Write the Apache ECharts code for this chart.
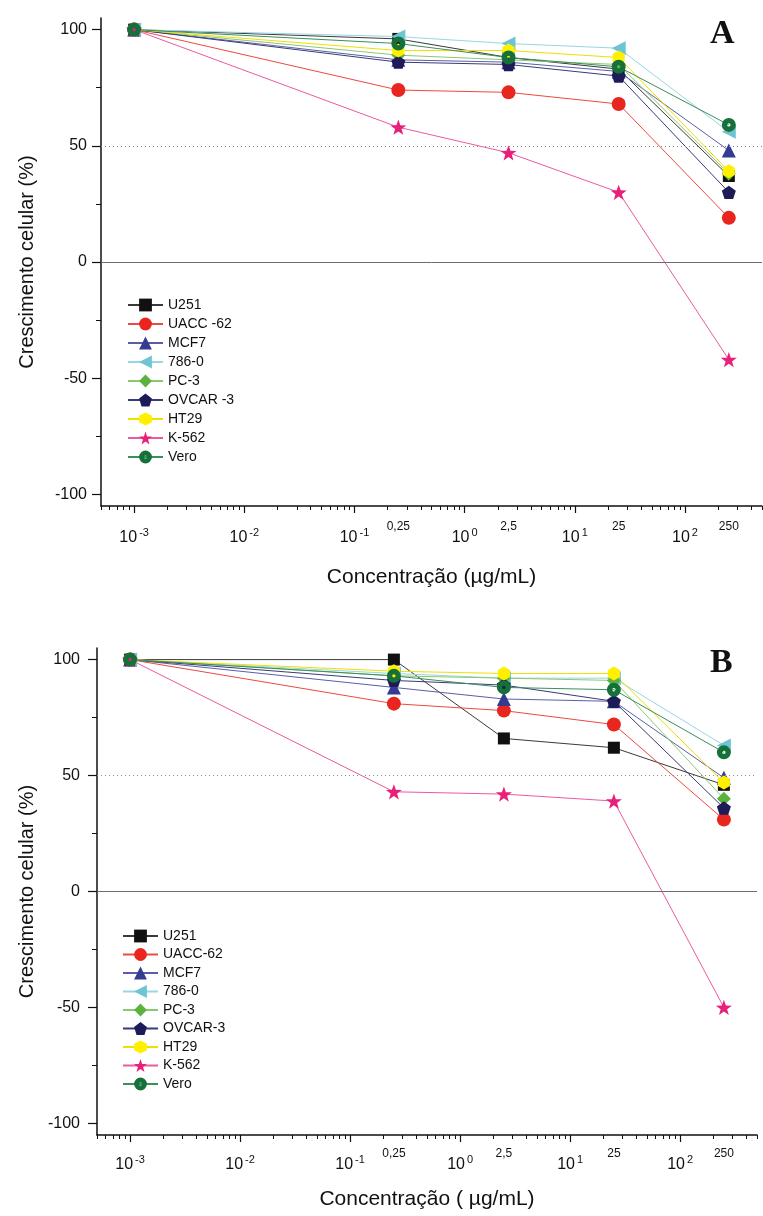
<!DOCTYPE html>
<html>
<head>
<meta charset="utf-8">
<script src="https://cdn.jsdelivr.net/npm/echarts@6/dist/echarts.min.js"></script>
<style>
  html, body { margin: 0; padding: 0; background: #fff; }
  #chart { width: 763px; height: 1216px; }
</style>
</head>
<body>
<div id="chart"></div>
<script>
// concentrações testadas (µg/mL)
const conc = [0.001, 0.25, 2.5, 25, 250]
const concTickVals = [0.25, 2.5, 25, 250]
const concLabels = ['0,25', '2,5', '25', '250']
const decadeTicks = [0.001, 0.01, 0.1, 1, 10, 100]
const yTicks = [-100, -50, 0, 50, 100]
const yMinorTicks = [-75, -25, 25, 75]

const namesA = ['U251', 'UACC -62', 'MCF7', '786-0', 'PC-3', 'OVCAR -3', 'HT29', 'K-562', 'Vero']
const namesB = ['U251', 'UACC-62', 'MCF7', '786-0', 'PC-3', 'OVCAR-3', 'HT29', 'K-562', 'Vero']

// painel A
const u251A   = [100, 96, 88, 83, 37]
const uacc62A = [100, 74, 73, 68, 19]
const mcf7A   = [100, 87, 86, 82, 48]
const r7860A  = [100, 97, 94, 92, 56]
const pc3A    = [100, 89, 87, 85, 38]
const ovcar3A = [100, 86, 85, 80, 30]
const ht29A   = [100, 91, 91, 88, 39]
const k562A   = [100, 58, 47, 30, -42]
const veroA   = [100, 94, 88, 84, 59]

// painel B
const u251B   = [100, 100, 66, 62, 46]
const uacc62B = [100, 81, 78, 72, 31]
const mcf7B   = [100, 88, 83, 82, 49]
const r7860B  = [100, 94, 92, 92, 63]
const pc3B    = [100, 93, 92, 91, 40]
const ovcar3B = [100, 91, 89, 82, 36]
const ht29B   = [100, 95, 94, 94, 47]
const k562B   = [100, 43, 42, 39, -50]
const veroB   = [100, 93, 88, 87, 60]

const valuesA = [u251A, uacc62A, mcf7A, r7860A, pc3A, ovcar3A, ht29A, k562A, veroA]
const valuesB = [u251B, uacc62B, mcf7B, r7860B, pc3B, ovcar3B, ht29B, k562B, veroB]

// marcadores
const LEFT_TRI = 'path://M0,50 L100,0 L100,100 Z'
const PENTAGON = 'path://M50,0 L97.55,34.55 L79.39,90.45 L20.61,90.45 L2.45,34.55 Z'
const HEXAGON = 'path://M50,0 L93.3,25 L93.3,75 L50,100 L6.7,75 L6.7,25 Z'
const STAR = 'path://M50,0 L61.76,33.82 L97.55,34.55 L69.02,56.18 L79.39,90.45 L50,70 L20.61,90.45 L30.98,56.18 L2.45,34.55 L38.24,33.82 Z'
const VERO = 'path://M100,50 A50,50 0 1,1 0,50 A50,50 0 1,1 100,50 Z M62,50 A12,12 0 1,0 38,50 A12,12 0 1,0 62,50 Z'

const styles = [
  { symbol: 'rect', size: 12, fill: '#111111', line: '#3a3a3a' },
  { symbol: 'circle', size: 14, fill: '#e8261f', line: '#ec4a43' },
  { symbol: 'triangle', size: 14, fill: '#363b92', line: '#5a5ea8' },
  { symbol: LEFT_TRI, size: 14, fill: '#6fc4d4', line: '#98d6e4' },
  { symbol: 'diamond', size: 14, fill: '#5bb33e', line: '#8cc870' },
  { symbol: PENTAGON, size: 14, fill: '#1d1b58', line: '#3b3a78' },
  { symbol: HEXAGON, size: 14, fill: '#fff000', line: '#efe000' },
  { symbol: STAR, size: 16, fill: '#e8207a', line: '#ea5aa0' },
  { symbol: VERO, size: 14, fill: '#16703a', line: '#3a8f5a' }
]

const FONT = "'Liberation Sans', Arial, sans-serif"
const minorX = []
for (let e = -4; e <= 2; e++) {
  for (let m = 2; m <= 9; m++) minorX.push(+(m * Math.pow(10, e)).toPrecision(3))
}

function buildSeries(names, values, axis) {
  return names.map((name, i) => {
    const st = styles[i]
    const s = {
      name: name,
      type: 'line',
      xAxisIndex: axis,
      yAxisIndex: axis,
      data: conc.map((c, j) => [c, values[i][j]]),
      symbol: st.symbol,
      symbolSize: st.size,
      symbolKeepAspect: true,
      itemStyle: { color: st.fill },
      lineStyle: { color: st.line, width: 1 },
      emphasis: { disabled: true }
    }
    if (i === 0) {
      s.markLine = {
        silent: true,
        symbol: 'none',
        label: { show: false },
        data: [
          { yAxis: 0, lineStyle: { color: '#6d6d6d', type: 'solid', width: 1 } },
          { yAxis: 50, lineStyle: { color: '#8a8a8a', type: [1, 3], width: 1 } }
        ]
      }
    }
    return s
  })
}

function xAxes(grid, title, nameGap, labelMargin) {
  return [
    {
      gridIndex: grid,
      type: 'log',
      min: 0.0005,
      max: 500,
      position: 'bottom',
      axisLine: { onZero: false, lineStyle: { color: '#111', width: 1.5 } },
      axisTick: { customValues: decadeTicks, length: 7, lineStyle: { color: '#111', width: 1.2 } },
      axisLabel: {
        customValues: decadeTicks,
        margin: labelMargin,
        formatter: v => '{b|10}{s|' + Math.round(Math.log10(v)) + '}',
        rich: {
          b: { fontSize: 16, color: '#111', fontFamily: FONT },
          s: { fontSize: 11, color: '#111', fontFamily: FONT, padding: [0, 0, 11, 2] }
        }
      },
      splitLine: { show: false },
      name: title,
      nameLocation: 'middle',
      nameGap: nameGap,
      nameTextStyle: { fontSize: 21, color: '#111', fontFamily: FONT }
    },
    {
      gridIndex: grid,
      type: 'log',
      min: 0.0005,
      max: 500,
      position: 'bottom',
      axisLine: { show: false, onZero: false },
      axisTick: { customValues: minorX, length: 4, lineStyle: { color: '#111', width: 1 } },
      axisLabel: {
        customValues: concTickVals,
        margin: labelMargin - 6,
        fontSize: 12,
        color: '#111',
        fontFamily: FONT,
        formatter: v => concLabels[concTickVals.findIndex(c => Math.abs(c - v) / c < 1e-6)] || ''
      },
      splitLine: { show: false }
    }
  ]
}

function yAxes(grid, nameGap, labelMargin) {
  return [
    {
      gridIndex: grid,
      type: 'value',
      min: -105,
      max: 105,
      position: 'left',
      axisLine: { show: true, onZero: false, lineStyle: { color: '#111', width: 1.5 } },
      axisTick: { show: true, customValues: yTicks, length: 9, lineStyle: { color: '#111', width: 1.2 } },
      axisLabel: { customValues: yTicks, fontSize: 16, color: '#111', fontFamily: FONT, margin: labelMargin },
      splitLine: { show: false },
      name: 'Crescimento celular (%)',
      nameLocation: 'middle',
      nameGap: nameGap,
      nameTextStyle: { fontSize: 20, color: '#111', fontFamily: FONT }
    },
    {
      gridIndex: grid,
      type: 'value',
      min: -105,
      max: 105,
      position: 'left',
      axisLine: { show: false, onZero: false },
      axisTick: { show: true, customValues: yMinorTicks, length: 5, lineStyle: { color: '#111', width: 1 } },
      axisLabel: { show: false },
      splitLine: { show: false }
    }
  ]
}

const legendBase = {
  orient: 'vertical',
  itemWidth: 35,
  itemHeight: 16,
  padding: 0,
  selectedMode: false,
  textStyle: { fontSize: 14, color: '#111', fontFamily: FONT }
}

const chart = echarts.init(document.getElementById('chart'))
chart.setOption({
  animation: false,
  backgroundColor: '#fff',
  title: [
    { text: 'A', left: 705, top: 12, textStyle: { fontSize: 34, fontWeight: 'bold', color: '#111', fontFamily: "'Liberation Serif', 'Times New Roman', serif" } },
    { text: 'B', left: 705, top: 641, textStyle: { fontSize: 34, fontWeight: 'bold', color: '#111', fontFamily: "'Liberation Serif', 'Times New Roman', serif" } }
  ],
  grid: [
    { left: 101, top: 18, width: 661, height: 488 },
    { left: 97, top: 648, width: 660, height: 487 }
  ],
  legend: [
    Object.assign({}, legendBase, { left: 127, top: 298, itemGap: 5, data: namesA }),
    Object.assign({}, legendBase, { left: 122, top: 929, itemGap: 4.5, data: namesB })
  ],
  xAxis: [].concat(xAxes(0, 'Concentração (µg/mL)', 61, 21), xAxes(1, 'Concentração ( µg/mL)', 54, 19)),
  yAxis: [].concat(yAxes(0, 64, 14), yAxes(1, 60, 17)),
  series: [].concat(buildSeries(namesA, valuesA, 0), buildSeries(namesB, valuesB, 2))
})
</script>
</body>
</html>
